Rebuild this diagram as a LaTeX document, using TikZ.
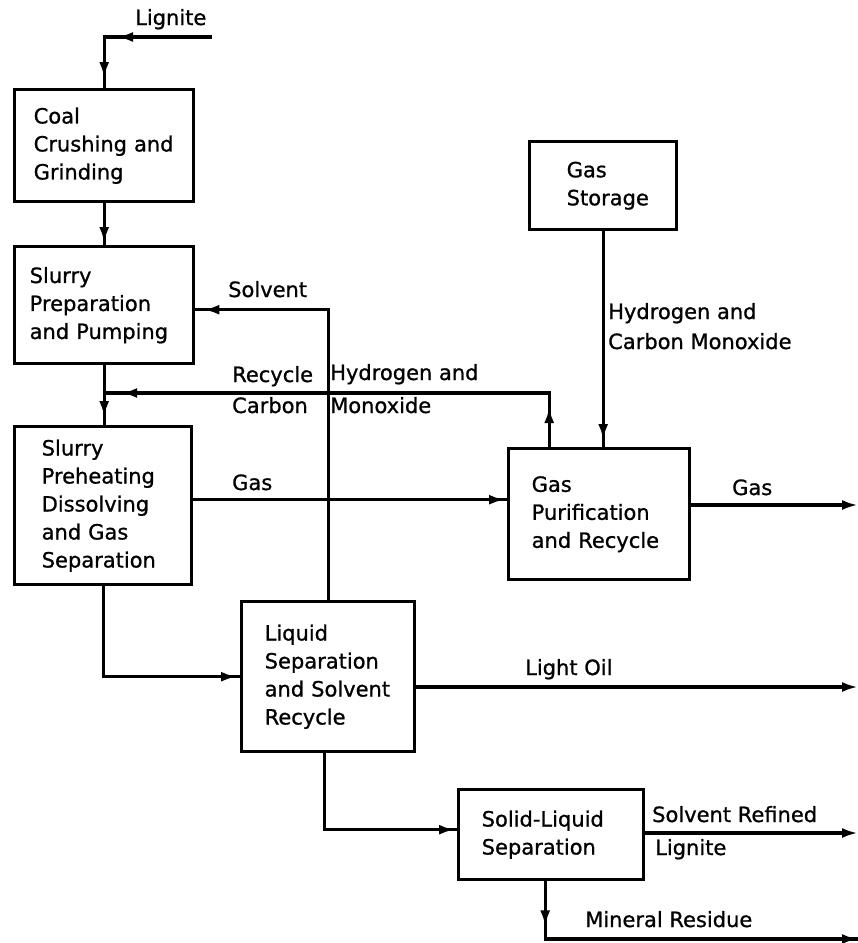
\documentclass[tikz,border=0pt]{standalone}
\usepackage{fontspec}
\setmainfont{DejaVu Sans}[UprightFeatures={FakeBold=0.9}]
\hyphenpenalty=10000
\exhyphenpenalty=10000
\usetikzlibrary{arrows.meta,decorations.markings}
\tikzset{
  ln/.style={line width=3.4pt},
  midtip/.style={decoration={markings,mark=at position #1 with {\arrow{Latex[length=16pt,width=10pt]}}},postaction={decorate}},
  twotips/.style 2 args={decoration={markings,
      mark=at position #1 with {\arrow{Latex[length=16pt,width=10pt]}},
      mark=at position #2 with {\arrow{Latex[length=16pt,width=10pt]}}},postaction={decorate}},
  endarrow/.style={-{Latex[length=16pt,width=10pt]}},
  box/.style={draw, line width=3.4pt, anchor=north west, inner ysep=0pt, align=left,
     font=\fontsize{21}{28}\selectfont},
  lab/.style={anchor=base west, inner sep=0pt, font=\fontsize{21}{28}\selectfont}
}
\begin{document}
\begin{tikzpicture}[x=1pt,y=-1pt]
\useasboundingbox (0,0) rectangle (858,943);
% boxes
\node[box, minimum width=179pt, minimum height=112pt, inner xsep=19pt, text width=141pt] (b1) at (13,88) {Coal\\Crushing~and\\Grinding};
\node[box, minimum width=179pt, minimum height=117pt, inner xsep=15pt, text width=149pt] (b2) at (13,245) {Slurry\\Preparation\\and~Pumping};
\node[box, minimum width=177pt, minimum height=158pt, inner xsep=27pt, text width=123pt] (b3) at (13,425) {Slurry\\Preheating\\Dissolving\\and~Gas\\Separation};
\node[box, minimum width=147pt, minimum height=88pt, inner xsep=37pt, text width=73pt] (gs) at (528,140) {Gas\\Storage};
\node[box, minimum width=181pt, minimum height=131pt, inner xsep=23pt, text width=135pt] (gp) at (507,447) {Gas\\Purification\\and~Recycle};
\node[box, minimum width=173pt, minimum height=150pt, inner xsep=23pt, text width=127pt] (liq) at (240,600) {Liquid\\Separation\\and~Solvent\\Recycle};
\node[box, minimum width=185pt, minimum height=90pt, inner xsep=23pt, text width=139pt] (sl) at (457,788) {Solid-Liquid\\Separation};
% coordinates
\coordinate (ligR) at (212,37);
\coordinate (ry) at (0,393);
\coordinate (gasend) at (858,505);
\coordinate (oilend) at (858,687);
\coordinate (srend) at (858,833);
\coordinate (mrend) at (858,939);
% connectors
\draw[ln, twotips={95pt}{-10pt}] (ligR) -- (b1.north |- ligR) -- (b1.north);
\draw[ln, midtip=-2pt] (b1.south) -- (b1.south |- b2.north);
\draw[ln, midtip=-8pt] (b2.south) -- (b2.south |- b3.north);
\draw[ln, midtip=-8pt] (liq.north) |- ([yshift=-4.5pt]b2.east);
\draw[ln, twotips={40pt}{-17pt}] ([xshift=-50pt]gp.north) |- (b2.south |- ry);
\draw[ln, midtip=-7pt] (gs.south) -- (gs.south |- gp.north);
\draw[ln, midtip=-2pt] ([yshift=6pt]b3.east) -- ([yshift=6pt]b3.east -| gp.west);
\draw[ln, endarrow] (gp.east |- gasend) -- (gasend);
\draw[ln, endarrow] (liq.east |- oilend) -- (oilend);
\draw[ln, midtip=-3pt] (b3.south) |- (liq.west);
\draw[ln, midtip=-2pt] ([xshift=-4pt]liq.south) |- ([yshift=5pt]sl.west);
\draw[ln, endarrow] (sl.east |- srend) -- (srend);
\draw[ln, midtip=45pt] ([xshift=-6pt]sl.south) |- (mrend);
\draw[ln, endarrow] ([xshift=-20pt]mrend) -- (mrend);
% labels
\node[lab] (tLig) at (135,25) {Lignite};
\node[lab] (tSolv) at (228,297) {Solvent};
\node[lab] (tRec) at (232,382) {Recycle};
\node[lab] (tCarb) at (232,413) {Carbon};
\node[lab] (tHyd) at (330,380) {Hydrogen and};
\node[lab] (tMon) at (330,413) {Monoxide};
\node[lab] (tGas) at (232,490) {Gas};
\node[lab] (tGas2) at (732,495) {Gas};
\node[lab] (tHyd2) at (608,319) {Hydrogen and};
\node[lab] (tCM) at (608,349) {Carbon Monoxide};
\node[lab] (tOil) at (525,675) {Light Oil};
\node[lab] (tSR) at (652,822) {Solvent Refined};
\node[lab] (tSRL) at (655,855) {Lignite};
\node[lab] (tMR) at (585,927) {Mineral Residue};
\end{tikzpicture}
\end{document}
